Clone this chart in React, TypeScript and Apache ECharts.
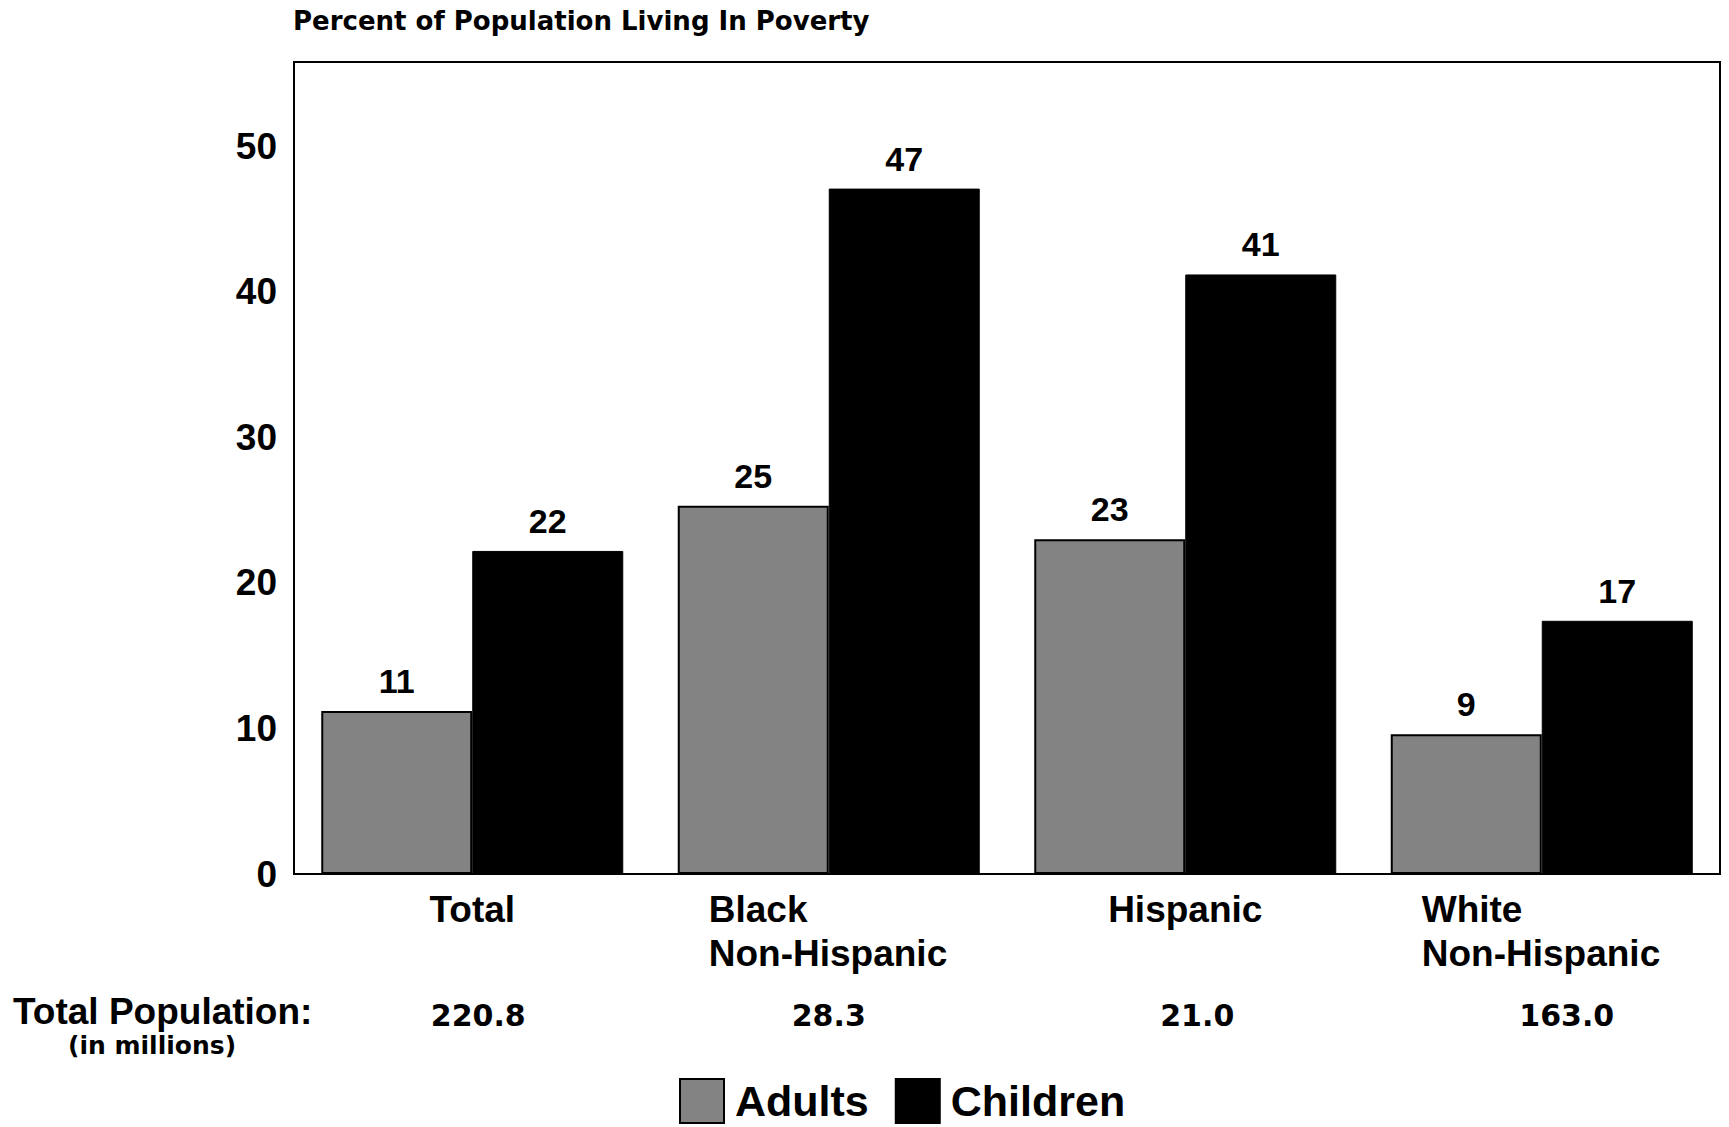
import React, { useEffect, useRef } from "react";
import * as echarts from "echarts";

const categories = ["Total", "Black\nNon-Hispanic", "Hispanic", "White\nNon-Hispanic"];
// bar heights as drawn in the picture
const adults = [11.2, 25.3, 23.0, 9.6];
const children = [22.2, 47.1, 41.2, 17.4];
// value labels as printed
const adultLabels = ["11", "25", "23", "9"];
const childLabels = ["22", "47", "41", "17"];
const populationLabels = ["220.8", "28.3", "21.0", "163.0"];
const yTicks = [0, 10, 20, 30, 40, 50];
const seriesNames = ["Adults", "Children"];
const titleText = "Percent of Population Living In Poverty";
const popTitle = "Total Population:";
const popUnit = "(in millions)";

const SANS = '"Liberation Sans", Arial, sans-serif';
const DEJAVU = '"DejaVu Sans", sans-serif';
const popShift = [12, 0, 24, 50];

export default function App() {
  const ref = useRef<HTMLDivElement>(null);
  useEffect(() => {
    if (!ref.current) return;
    const chart = echarts.init(ref.current, null, { renderer: "svg" });
    const rich: any = {
      l: { width: 240, align: "left", fontSize: 37, fontWeight: "bold", fontFamily: SANS, lineHeight: 44, color: "#000" },
      c: { fontSize: 37, fontWeight: "bold", fontFamily: SANS, lineHeight: 44, color: "#000" },
    };
    const popRich: any = {};
    popShift.forEach((s, i) => {
      popRich["p" + i] = {
        fontSize: 30, fontWeight: "bold", fontFamily: DEJAVU, color: "#000", lineHeight: 36,
        padding: [0, 0, 0, s],
      };
    });
    const valueLabel = (labels: string[]) => ({
      show: true,
      position: "top",
      distance: 13,
      fontFamily: SANS,
      fontWeight: "bold",
      fontSize: 34,
      color: "#000",
      formatter: (p: any) => labels[p.dataIndex],
    });
    chart.setOption({
      animation: false,
      backgroundColor: "#fff",
      title: {
        text: titleText,
        left: 293,
        top: 8,
        padding: 0,
        textStyle: { fontFamily: DEJAVU, fontWeight: "bold", fontSize: 26, color: "#000" },
      },
      legend: {
        data: seriesNames,
        left: 679,
        top: 1078,
        padding: 0,
        icon: "rect",
        itemWidth: 44,
        itemHeight: 44,
        itemGap: 26,
        textStyle: { fontFamily: SANS, fontWeight: "bold", fontSize: 43, lineHeight: 44, color: "#000", padding: [0, 0, 0, 6] },
      },
      grid: {
        left: 294,
        right: 9,
        top: 62,
        bottom: 253,
        show: true,
        borderColor: "#000",
        borderWidth: 2,
        backgroundColor: "transparent",
      },
      xAxis: [
        {
          type: "category",
          data: categories,
          position: "bottom",
          axisLine: { show: true, lineStyle: { color: "#000", width: 2 } },
          axisTick: { show: false },
          splitLine: { show: false },
          axisLabel: {
            interval: 0,
            margin: 13,
            formatter: (v: string) =>
              v.indexOf("\n") >= 0
                ? v.split("\n").map((s) => `{l|${s}}`).join("\n")
                : `{c|${v}}`,
            rich,
          },
        },
        {
          type: "category",
          data: populationLabels,
          position: "bottom",
          offset: 123,
          axisLine: { show: false },
          axisTick: { show: false },
          splitLine: { show: false },
          axisLabel: {
            interval: 0,
            margin: 0,
            formatter: (v: string, i: number) => `{p${i}|${v}}`,
            rich: popRich,
          },
        },
      ],
      yAxis: {
        type: "value",
        min: yTicks[0],
        max: 55.8,
        interval: yTicks[1] - yTicks[0],
        axisLine: { show: true, lineStyle: { color: "#000", width: 2 } },
        axisTick: { show: false },
        splitLine: { show: false },
        axisLabel: {
          showMaxLabel: false,
          margin: 17,
          fontFamily: SANS,
          fontWeight: "bold",
          fontSize: 37,
          color: "#000",
          formatter: (v: number) => (yTicks.indexOf(v) >= 0 ? String(v) : ""),
        },
      },
      series: [
        {
          name: seriesNames[0],
          type: "bar",
          data: adults,
          xAxisIndex: 0,
          barWidth: 151,
          barGap: "0%",
          itemStyle: { color: "#838383", borderColor: "#000", borderWidth: 2 },
          label: valueLabel(adultLabels),
        },
        {
          name: seriesNames[1],
          type: "bar",
          data: children,
          xAxisIndex: 0,
          barWidth: 151,
          barGap: "0%",
          itemStyle: { color: "#000", borderColor: "#000", borderWidth: 1 },
          label: valueLabel(childLabels),
        },
      ],
      graphic: [
        {
          type: "text",
          x: 13,
          y: 1011,
          style: {
            text: popTitle,
            font: `bold 37px ${SANS}`,
            fill: "#000",
            verticalAlign: "middle",
          },
        },
        {
          type: "text",
          x: 68,
          y: 1045,
          style: {
            text: popUnit,
            font: `bold 25px ${DEJAVU}`,
            fill: "#000",
            verticalAlign: "middle",
          },
        },
      ],
    });
    return () => chart.dispose();
  }, []);
  return (
    <div
      ref={ref}
      style={{ position: "fixed", left: 0, top: 0, width: "1729px", height: "1127px", background: "#fff" }}
    />
  );
}
